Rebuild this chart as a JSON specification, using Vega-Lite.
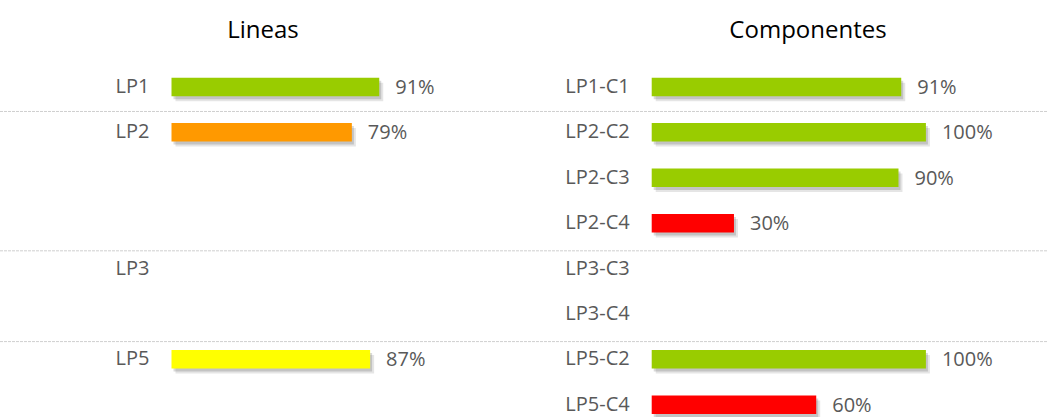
{
  "$schema": "https://vega.github.io/schema/vega-lite/v6.json",
  "width": 1047,
  "height": 417,
  "autosize": {"type": "none"},
  "padding": 0,
  "background": "white",
  "config": {"view": {"stroke": null}, "font": "Open Sans"},
  "datasets": {
    "lineas": [
      {"label": "LP1", "row": 1, "pct": 0.91, "estado": "verde"},
      {"label": "LP2", "row": 2, "pct": 0.79, "estado": "naranja"},
      {"label": "LP3", "row": 5, "pct": null, "estado": "sin dato"},
      {"label": "LP5", "row": 7, "pct": 0.87, "estado": "amarillo"}
    ],
    "componentes": [
      {"label": "LP1-C1", "row": 1, "pct": 0.91, "estado": "verde"},
      {"label": "LP2-C2", "row": 2, "pct": 1.0, "estado": "verde"},
      {"label": "LP2-C3", "row": 3, "pct": 0.9, "estado": "verde"},
      {"label": "LP2-C4", "row": 4, "pct": 0.3, "estado": "rojo"},
      {"label": "LP3-C3", "row": 5, "pct": null, "estado": "sin dato"},
      {"label": "LP3-C4", "row": 6, "pct": null, "estado": "sin dato"},
      {"label": "LP5-C2", "row": 7, "pct": 1.0, "estado": "verde"},
      {"label": "LP5-C4", "row": 8, "pct": 0.6, "estado": "rojo"}
    ],
    "separadores": [{"sep": 1.54}, {"sep": 4.61}, {"sep": 6.61}],
    "tituloIzq": [{"titulo": "Lineas", "tx": 0.4008, "ty": -0.24}],
    "tituloDer": [{"titulo": "Componentes", "tx": 0.57, "ty": -0.24}]
  },
  "layer": [
    {
      "data": {"name": "separadores"},
      "mark": {"type": "rule", "color": "#cfcfcf", "strokeWidth": 1, "strokeDash": [3, 1]},
      "encoding": {
        "y": {"field": "sep", "type": "quantitative", "scale": {"domain": [-0.806, 8.161], "reverse": true}, "axis": null}
      }
    },
    {
      "data": {"name": "lineas"},
      "encoding": {
        "y": {"field": "row", "type": "quantitative", "scale": {"domain": [-0.806, 8.161], "reverse": true}, "axis": null}
      },
      "layer": [
        {
          "mark": {"type": "bar", "orient": "horizontal", "size": 18.5, "color": "#000000", "opacity": 0.1, "xOffset": 4, "x2Offset": 4, "yOffset": 5, "y2Offset": 5},
          "encoding": {"x": {"field": "pct", "type": "quantitative", "scale": {"domain": [-0.7512, 3.8349]}, "axis": null}}
        },
        {
          "mark": {"type": "bar", "orient": "horizontal", "size": 18.5, "color": "#000000", "opacity": 0.15, "xOffset": 2, "x2Offset": 2, "yOffset": 3, "y2Offset": 3},
          "encoding": {"x": {"field": "pct", "type": "quantitative", "scale": {"domain": [-0.7512, 3.8349]}, "axis": null}}
        },
        {
          "mark": {"type": "bar", "orient": "horizontal", "size": 18.5},
          "encoding": {
            "x": {"field": "pct", "type": "quantitative", "scale": {"domain": [-0.7512, 3.8349]}, "axis": null},
            "color": {"field": "estado", "type": "nominal", "scale": {"domain": ["verde", "naranja", "amarillo", "rojo", "sin dato"], "range": ["#99CC00", "#FF9900", "#FFFF00", "#FF0000", "#FFFFFF"]}, "legend": null}
          }
        },
        {
          "mark": {"type": "text", "align": "right", "baseline": "middle", "dx": -22, "dy": 0, "fontSize": 20, "color": "#595959"},
          "encoding": {
            "x": {"datum": 0, "type": "quantitative", "scale": {"domain": [-0.7512, 3.8349]}, "axis": null},
            "text": {"field": "label"}
          }
        },
        {
          "transform": [{"filter": "datum.pct != null"}],
          "mark": {"type": "text", "align": "left", "baseline": "middle", "dx": 16, "dy": 1, "fontSize": 20, "color": "#595959"},
          "encoding": {
            "x": {"field": "pct", "type": "quantitative", "scale": {"domain": [-0.7512, 3.8349]}, "axis": null},
            "text": {"field": "pct", "format": ".0%"}
          }
        },
        {
          "data": {"name": "tituloIzq"},
          "mark": {"type": "text", "align": "center", "baseline": "middle", "fontSize": 24, "color": "#000000"},
          "encoding": {
            "x": {"field": "tx", "type": "quantitative", "scale": {"domain": [-0.7512, 3.8349]}, "axis": null},
            "y": {"field": "ty", "type": "quantitative", "scale": {"domain": [-0.806, 8.161], "reverse": true}, "axis": null},
            "text": {"field": "titulo"}
          }
        }
      ]
    },
    {
      "data": {"name": "componentes"},
      "encoding": {
        "y": {"field": "row", "type": "quantitative", "scale": {"domain": [-0.806, 8.161], "reverse": true}, "axis": null}
      },
      "layer": [
        {
          "mark": {"type": "bar", "orient": "horizontal", "size": 18.5, "color": "#000000", "opacity": 0.1, "xOffset": 4, "x2Offset": 4, "yOffset": 5, "y2Offset": 5},
          "encoding": {"x": {"field": "pct", "type": "quantitative", "scale": {"domain": [-2.3767, 1.4416]}, "axis": null}}
        },
        {
          "mark": {"type": "bar", "orient": "horizontal", "size": 18.5, "color": "#000000", "opacity": 0.15, "xOffset": 2, "x2Offset": 2, "yOffset": 3, "y2Offset": 3},
          "encoding": {"x": {"field": "pct", "type": "quantitative", "scale": {"domain": [-2.3767, 1.4416]}, "axis": null}}
        },
        {
          "mark": {"type": "bar", "orient": "horizontal", "size": 18.5},
          "encoding": {
            "x": {"field": "pct", "type": "quantitative", "scale": {"domain": [-2.3767, 1.4416]}, "axis": null},
            "color": {"field": "estado", "type": "nominal", "scale": {"domain": ["verde", "naranja", "amarillo", "rojo", "sin dato"], "range": ["#99CC00", "#FF9900", "#FFFF00", "#FF0000", "#FFFFFF"]}, "legend": null}
          }
        },
        {
          "mark": {"type": "text", "align": "right", "baseline": "middle", "dx": -22, "dy": 0, "fontSize": 20, "color": "#595959"},
          "encoding": {
            "x": {"datum": 0, "type": "quantitative", "scale": {"domain": [-2.3767, 1.4416]}, "axis": null},
            "text": {"field": "label"}
          }
        },
        {
          "transform": [{"filter": "datum.pct != null"}],
          "mark": {"type": "text", "align": "left", "baseline": "middle", "dx": 16, "dy": 1, "fontSize": 20, "color": "#595959"},
          "encoding": {
            "x": {"field": "pct", "type": "quantitative", "scale": {"domain": [-2.3767, 1.4416]}, "axis": null},
            "text": {"field": "pct", "format": ".0%"}
          }
        },
        {
          "data": {"name": "tituloDer"},
          "mark": {"type": "text", "align": "center", "baseline": "middle", "fontSize": 24, "color": "#000000"},
          "encoding": {
            "x": {"field": "tx", "type": "quantitative", "scale": {"domain": [-2.3767, 1.4416]}, "axis": null},
            "y": {"field": "ty", "type": "quantitative", "scale": {"domain": [-0.806, 8.161], "reverse": true}, "axis": null},
            "text": {"field": "titulo"}
          }
        }
      ]
    }
  ],
  "resolve": {"scale": {"x": "independent"}}
}
